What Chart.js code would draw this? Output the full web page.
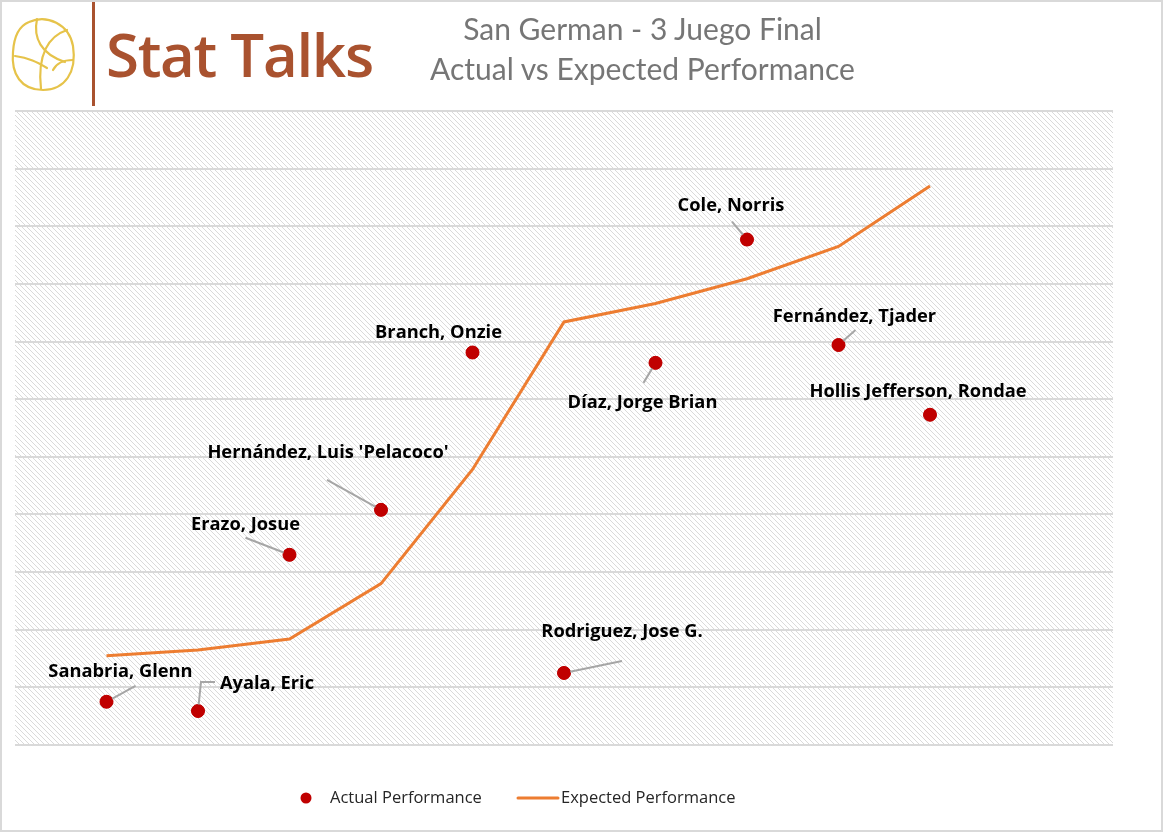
<!DOCTYPE html>
<html>
<head>
<meta charset="utf-8">
<script src="https://cdn.jsdelivr.net/npm/chart.js@4.4.1/dist/chart.umd.min.js"></script>
<style>
  body { margin: 0; background: #fff; }
  #wrap { position: relative; width: 1163px; height: 832px; font-family: Lato, "Open Sans", sans-serif; }
  #chart { position: absolute; left: 0; top: 0; }
  .hdr { position: absolute; white-space: nowrap; }
  #brand { left: 106px; top: 13px; font-size: 60px; font-weight: 600; color: #a9522f; font-family: "Open Sans", Lato, sans-serif; letter-spacing: -1.3px; }
  #bar { position: absolute; left: 92px; top: 2px; width: 3px; height: 104px; background: #a9522f; }
  #logo { position: absolute; left: 7px; top: 14px; }
  .title { left: 0; width: 1285px; text-align: center; font-size: 30px; color: #767676; }
</style>
</head>
<body>
<div id="wrap">
  <canvas id="chart" width="1163" height="832"></canvas>
  <svg id="logo" width="72" height="80" viewBox="0 0 72 80">
    <g fill="none" stroke="#e6c34a" stroke-width="2.2" stroke-linecap="round">
      <path d="M22 8 C40 0 62 10 66 32 C70 58 58 76 36 76 C14 76 4 60 6 38 C7 22 12 12 22 8 Z"/>
      <path d="M30 5 C26 24 34 40 58 48"/>
      <path d="M60 16 C42 22 30 40 34 75"/>
      <path d="M8 42 C22 44 30 48 40 54"/>
      <path d="M46 56 C50 48 58 46 66 46"/>
    </g>
  </svg>
  <div id="bar"></div>
  <div class="hdr" id="brand">Stat Talks</div>
  <div class="hdr title" style="top:10px">San German - 3 Juego Final</div>
  <div class="hdr title" style="top:50px">Actual vs Expected Performance</div>
</div>
<script>
// Players (in order along the x axis)
const players = ['Sanabria, Glenn', 'Ayala, Eric', 'Erazo, Josue', "Hernández, Luis 'Pelacoco'", 'Branch, Onzie',
  'Rodriguez, Jose G.', 'Díaz, Jorge Brian', 'Cole, Norris', 'Fernández, Tjader', 'Hollis Jefferson, Rondae'];
const playerIndex = [1, 2, 3, 4, 5, 6, 7, 8, 9, 10];
const actualPerf = [0.75, 0.59, 3.30, 4.08, 6.81, 1.25, 6.63, 8.77, 6.94, 5.73];
const expectedPerf = [1.55, 1.65, 1.84, 2.80, 4.78, 7.34, 7.66, 8.09, 8.65, 9.70];

// label placement relative to each point: [text dx, text dy, leader dx, leader dy, elbow]
const labelOffsets = [
  [14, -30, 29, -16],
  [69, -27, 3, -29, 14],
  [-44, -30, -44, -17],
  [-53, -57, -54, -30],
  [-34, -20],
  [58, -41, 58, -12],
  [-13, 40, -12, 20],
  [-16, -34, -15, -18],
  [16, -28, 17, -15],
  [-12, -23]
];

// diagonal hatch used as the plot background
function makeHatch() {
  const c = document.createElement('canvas');
  c.width = 5; c.height = 5;
  const g = c.getContext('2d');
  g.fillStyle = '#ffffff';
  g.fillRect(0, 0, 5, 5);
  g.fillStyle = '#dadada';
  for (let i = 0; i < 5; i++) {
    g.fillRect(i, i, 1, 1);
  }
  return g.createPattern(c, 'repeat');
}

const hatchBg = {
  id: 'hatchBg',
  beforeDraw(chart) {
    const { ctx, chartArea: a } = chart;
    ctx.save();
    ctx.fillStyle = makeHatch();
    ctx.fillRect(a.left, a.top, a.right - a.left, a.bottom - a.top);
    ctx.restore();
  },
  afterDraw(chart) {
    const ctx = chart.ctx;
    ctx.save();
    // outer frame
    ctx.strokeStyle = '#d9d9d9';
    ctx.lineWidth = 2;
    ctx.strokeRect(1, 1, 1161, 830);
    // legend
    ctx.fillStyle = '#c00000';
    ctx.beginPath();
    ctx.arc(306, 798, 5.5, 0, Math.PI * 2);
    ctx.fill();
    ctx.strokeStyle = '#ed7d31';
    ctx.lineWidth = 3;
    ctx.lineCap = 'round';
    ctx.beginPath();
    ctx.moveTo(518, 798);
    ctx.lineTo(558, 798);
    ctx.stroke();
    ctx.fillStyle = '#262626';
    ctx.font = '16.5px "Open Sans", Lato, sans-serif';
    ctx.textBaseline = 'middle';
    ctx.fillText(chart.data.datasets[0].label, 330, 798);
    ctx.fillText(chart.data.datasets[1].label, 561, 798);
    ctx.restore();
  }
};

const pointLabels = {
  id: 'pointLabels',
  afterDatasetsDraw(chart) {
    const ctx = chart.ctx;
    const meta = chart.getDatasetMeta(0);
    ctx.save();
    meta.data.forEach((pt, i) => {
      const o = labelOffsets[i];
      if (o.length > 2) {
        ctx.strokeStyle = '#a6a6a6';
        ctx.lineWidth = 2;
        ctx.beginPath();
        ctx.moveTo(pt.x, pt.y);
        ctx.lineTo(pt.x + o[2], pt.y + o[3]);
        if (o[4]) ctx.lineTo(pt.x + o[2] + o[4], pt.y + o[3]);
        ctx.stroke();
      }
    });
    // redraw dots on top of leader lines
    meta.data.forEach(pt => {
      ctx.fillStyle = '#c00000';
      ctx.beginPath();
      ctx.arc(pt.x, pt.y, 6.5, 0, Math.PI * 2);
      ctx.fill();
    });
    meta.data.forEach((pt, i) => {
      const o = labelOffsets[i];
      ctx.fillStyle = '#000';
      ctx.font = 'bold 18.3px "Open Sans", Lato, sans-serif';
      ctx.textAlign = 'center';
      ctx.textBaseline = 'middle';
      ctx.fillText(players[i], pt.x + o[0], pt.y + o[1]);
    });
    ctx.restore();
  }
};

const ctx = document.getElementById('chart');
const chart = new Chart(ctx, {
  type: 'scatter',
  data: {
    datasets: [{
      label: 'Actual Performance',
      data: playerIndex.map((x, i) => ({ x: x, y: actualPerf[i] })),
      backgroundColor: '#c00000',
      borderColor: '#c00000',
      pointRadius: 6.5,
      order: 2
    }, {
      label: 'Expected Performance',
      type: 'line',
      data: playerIndex.map((x, i) => ({ x: x, y: expectedPerf[i] })),
      borderColor: '#ed7d31',
      borderWidth: 3,
      pointRadius: 0,
      tension: 0,
      order: 1
    }]
  },
  options: {
    responsive: false,
    animation: false,
    layout: { padding: { left: 15, right: 50, top: 111, bottom: 87 } },
    plugins: {
      legend: { display: false },
      tooltip: { enabled: false }
    },
    scales: {
      x: { type: 'linear', min: 0, max: 12, display: false },
      y: {
        min: 0, max: 11,
        ticks: { display: false, stepSize: 1 },
        grid: { color: '#d9d9d9', lineWidth: 2, drawTicks: false },
        border: { display: false }
      }
    }
  },
  plugins: [hatchBg, pointLabels]
});
</script>
</body>
</html>
